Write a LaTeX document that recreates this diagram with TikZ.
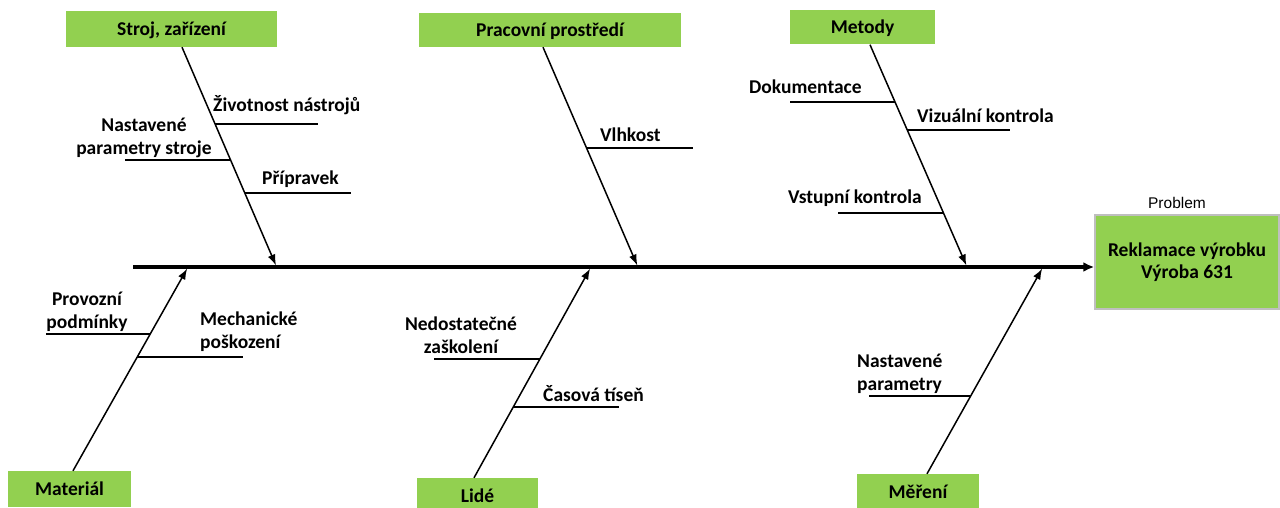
\documentclass[tikz,border=0pt]{standalone}
\usepackage{fontspec}
\setmainfont{Carlito}
\newfontfamily\arialfont{Liberation Sans}
\usetikzlibrary{arrows.meta}
\definecolor{boxgreen}{HTML}{92D050}
\definecolor{boxedge}{HTML}{BFBFBF}
\begin{document}
\begin{tikzpicture}[x=1pt,y=-1pt,
  cat/.style={fill=boxgreen, inner sep=0pt, font=\fontsize{19.5}{23}\selectfont\bfseries,
              text height=15pt, text depth=2pt},
  lbl/.style={font=\fontsize{19.5}{22.5}\selectfont\bfseries, inner sep=0pt, anchor=base west},
  bone/.style={line width=1.5pt, -{Latex[length=11pt,width=8pt]}},
  twig/.style={line width=1.3pt},
  spine/.style={line width=3.5pt, -{Latex[length=11pt,width=10pt]}}]
\useasboundingbox (0,0) rectangle (1280,508);
\clip (0,0) rectangle (1280,508);

% category boxes
\node[cat, minimum width=211pt, minimum height=36pt] (stroj) at (171.5,29) {Stroj, zařízení};
\node[cat, minimum width=262pt, minimum height=34pt] (prostredi) at (550,30) {Pracovní prostředí};
\node[cat, minimum width=145pt, minimum height=34pt] (metody) at (862.5,27.5) {Metody};
\node[cat, minimum width=123pt, minimum height=36pt] (material) at (69.5,489) {Materiál};
\node[cat, minimum width=121pt, minimum height=36pt] (lide) at (477.5,496) {Lidé};
\node[cat, minimum width=122pt, minimum height=36pt] (mereni) at (918,492) {Měření};

% effect box
\node[fill=boxgreen, draw=boxedge, line width=1.5pt, inner sep=0pt,
      minimum width=184pt, minimum height=94pt, align=center,
      font=\fontsize{19.5}{22}\selectfont\bfseries] (problem) at (1187,262)
      {Reklamace výrobku\\Výroba 631};
\node[font=\arialfont\fontsize{15.5}{18}\selectfont, inner sep=0pt, anchor=base]
      (problemlbl) at (1177,208) {Problem};

% spine
\coordinate (tail) at (133,267);
\draw[spine] (tail) -- (tail -| problem.west);

% bone tips on the spine
\coordinate (strojtip) at (276,265.5);
\coordinate (prostreditip) at (637.3,265.5);
\coordinate (metodytip) at (966.4,265.5);
\coordinate (materialtip) at (187.2,268.5);
\coordinate (lidetip) at (590.1,268.5);
\coordinate (mereniptip) at (1042.2,268.5);

\draw[bone] ([xshift=10.5pt]stroj.south) -- (strojtip);
\draw[bone] ([xshift=-7pt]prostredi.south) -- (prostreditip);
\draw[bone] ([xshift=7.5pt]metody.south) -- (metodytip);
\draw[bone] ([xshift=3.5pt]material.north) -- (materialtip);
\draw[bone] ([xshift=-3.5pt]lide.north) -- (lidetip);
\draw[bone] ([xshift=9pt]mereni.north) -- (mereniptip);

% causes: Stroj, zařízení
\coordinate (s1a) at (215.2,124); \coordinate (s1b) at (318,124);
\coordinate (s2a) at (125,160);   \coordinate (s2b) at (230.8,160);
\coordinate (s3a) at (245,193);   \coordinate (s3b) at (351,193);
\draw[twig] (s1a) -- (s1b);
\draw[twig] (s2a) -- (s2b);
\draw[twig] (s3a) -- (s3b);
\node[lbl] (zivotnost) at (213,112) {Životnost nástrojů};
\node[lbl, anchor=base, align=center] (naststroj) at (144,154) {Nastavené\\parametry stroje};
\node[lbl] (pripravek) at (262,184) {Přípravek};

% causes: Pracovní prostředí
\coordinate (p1a) at (586.6,148); \coordinate (p1b) at (693,148);
\draw[twig] (p1a) -- (p1b);
\node[lbl] (vlhkost) at (600,142) {Vlhkost};

% causes: Metody
\coordinate (m1a) at (790,102);   \coordinate (m1b) at (895.2,102);
\coordinate (m2a) at (907.4,130); \coordinate (m2b) at (1010,130);
\coordinate (m3a) at (838,213);   \coordinate (m3b) at (943.5,213);
\draw[twig] (m1a) -- (m1b);
\draw[twig] (m2a) -- (m2b);
\draw[twig] (m3a) -- (m3b);
\node[lbl] (dokumentace) at (749,94) {Dokumentace};
\node[lbl] (vizualni) at (917,123) {Vizuální kontrola};
\node[lbl] (vstupni) at (788,204) {Vstupní kontrola};

% causes: Materiál
\coordinate (a1a) at (46,334);    \coordinate (a1b) at (150.2,334);
\coordinate (a2a) at (137.3,357); \coordinate (a2b) at (243,357);
\draw[twig] (a1a) -- (a1b);
\draw[twig] (a2a) -- (a2b);
\node[lbl, anchor=base, align=center] (provozni) at (87,328) {Provozní\\podmínky};
\node[lbl, align=left] (mechanicke) at (200,348) {Mechanické\\poškození};

% causes: Lidé
\coordinate (l1a) at (434,359);   \coordinate (l1b) at (539.7,359);
\coordinate (l2a) at (513,407);   \coordinate (l2b) at (619,407);
\draw[twig] (l1a) -- (l1b);
\draw[twig] (l2a) -- (l2b);
\node[lbl, anchor=base, align=center] (skoleni) at (461,353) {Nedostatečné\\zaškolení};
\node[lbl] (tisen) at (543,401) {Časová tíseň};

% causes: Měření
\coordinate (e1a) at (869,396);   \coordinate (e1b) at (970.7,396);
\draw[twig] (e1a) -- (e1b);
\node[lbl, align=left] (nastparam) at (857,390) {Nastavené\\parametry};
\end{tikzpicture}
\end{document}
